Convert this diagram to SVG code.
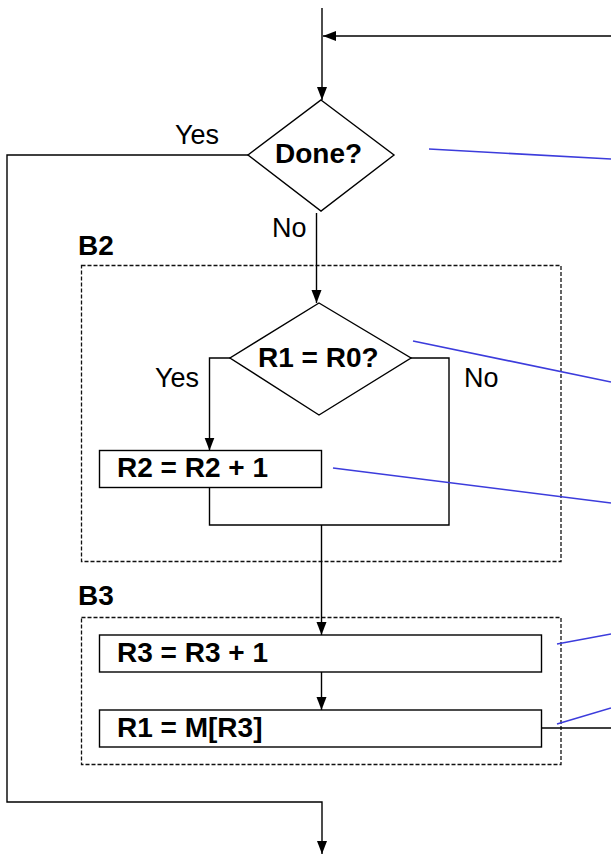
<svg xmlns="http://www.w3.org/2000/svg" width="611" height="854" viewBox="0 0 611 854">
<defs>
<marker id="arr" markerUnits="userSpaceOnUse" markerWidth="14" markerHeight="12" refX="13" refY="5" orient="auto">
<path d="M0,0 L13,5 L0,10 Z" fill="#000"/>
</marker>
<style>
.n{fill:#fff;stroke:#000;stroke-width:1.4}
.grp{fill:none;stroke:#111;stroke-width:1.3;stroke-dasharray:4,2}
.c{fill:none;stroke:#000;stroke-width:1.4}
.a{marker-end:url(#arr)}
.b{stroke:#3c3cdc;stroke-width:1.6;fill:none}
.t{font-family:"Liberation Sans",Arial,sans-serif;font-size:28px;font-weight:bold;fill:#000}
.l{font-family:"Liberation Sans",Arial,sans-serif;font-size:27px;fill:#000}
</style>
</defs>
<rect width="611" height="854" fill="#fff"/>
<g id="B2">
<rect class="grp" x="81.5" y="265.5" width="479.5" height="296"/>
<text class="t" x="78" y="255">B2</text>
</g>
<g id="B3">
<rect class="grp" x="81.5" y="617.5" width="479.5" height="147"/>
<text class="t" x="78" y="605">B3</text>
</g>
<g id="connectors">
<line class="c a" x1="322" y1="8" x2="322" y2="100"/>
<line class="c a" x1="611" y1="36" x2="323" y2="36"/>
<polyline class="c a" points="248,155 7,155 7,802 322,802 322,854"/>
<line class="c a" x1="316.5" y1="213" x2="316.5" y2="303"/>
<polyline class="c a" points="230,358 209.5,358 209.5,450.5"/>
<polyline class="c" points="209.5,487.5 209.5,525 449,525 449,358 411,358"/>
<line class="c a" x1="321.5" y1="525" x2="321.5" y2="635"/>
<line class="c a" x1="321.5" y1="672" x2="321.5" y2="710"/>
<line class="c" x1="541.5" y1="728" x2="611" y2="728"/>
<text class="l" x="175" y="144">Yes</text>
<text class="l" x="272" y="237">No</text>
<text class="l" x="155" y="387">Yes</text>
<text class="l" x="464" y="387">No</text>
</g>
<g id="annotations">
<line class="b" x1="429" y1="149" x2="611" y2="159"/>
<line class="b" x1="413" y1="341" x2="611" y2="382"/>
<line class="b" x1="333" y1="468" x2="611" y2="503"/>
<line class="b" x1="557" y1="644" x2="611" y2="634"/>
<line class="b" x1="557" y1="724" x2="611" y2="708"/>
</g>
<g id="done">
<polygon class="n" points="321,100 394,155 321,211 248,155"/>
<text class="t" x="275" y="163">Done?</text>
</g>
<g id="cmp">
<polygon class="n" points="319,303 411,358 319,415 230,358"/>
<text class="t" x="258" y="367">R1 = R0?</text>
</g>
<g id="inc2">
<rect class="n" x="99.5" y="450.5" width="222" height="37"/>
<text class="t" x="117" y="477">R2 = R2 + 1</text>
</g>
<g id="inc3">
<rect class="n" x="99.5" y="635" width="442" height="37"/>
<text class="t" x="117" y="662">R3 = R3 + 1</text>
</g>
<g id="load">
<rect class="n" x="99.5" y="710" width="442" height="37"/>
<text class="t" x="117" y="737">R1 = M[R3]</text>
</g>
</svg>
